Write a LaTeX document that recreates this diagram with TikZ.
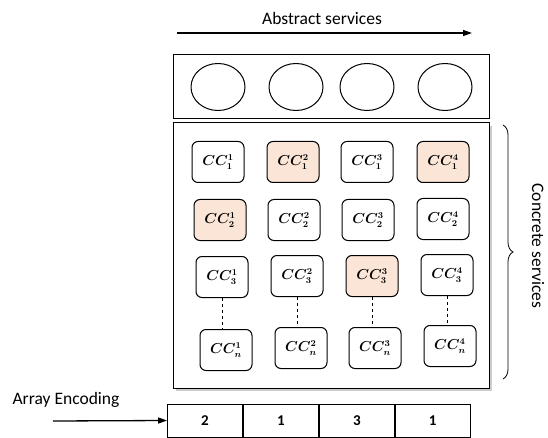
\documentclass[tikz,border=0pt]{standalone}
\usepackage{fontspec}
\setmainfont{Carlito}
\usepackage{amsmath}
\usepackage{bm}
\usetikzlibrary{arrows.meta,shadows,decorations.pathreplacing,shapes.geometric}
\definecolor{peach}{HTML}{FBE5D6}
\newcommand{\ccl}[2]{$\bm{CC}_{\bm{#1}}^{\bm{#2}}$}
\begin{document}
\begin{tikzpicture}[x=1pt,y=-1pt,
  lbl/.style={font=\fontsize{17.5}{20}\selectfont},
  ccbox/.style={draw,line width=1pt,rounded corners=6pt,minimum width=52pt,minimum height=41pt,inner sep=0pt,font=\fontsize{13.5}{15}\selectfont},
  sel/.style={ccbox,fill=peach},
  frame/.style={draw,line width=1pt},
  abs/.style={draw,line width=1pt,ellipse,minimum width=54pt,minimum height=47pt,inner sep=0pt},
  cell/.style={draw,line width=0.9pt,minimum width=75pt,minimum height=33pt,inner sep=0pt,font=\bfseries\fontsize{15}{17}\selectfont},
  arr/.style={line width=1.3pt,-{Triangle[length=9pt,width=6pt]}},
  dots/.style={dashed,line width=1pt}
]
\useasboundingbox (0,0) rectangle (548,438);
\node[lbl] (abstxt) at (322,18) {Abstract services};
\coordinate (a1) at (177,33);
\coordinate (a2) at (472,33);
\draw[arr] (a1) -- (a2);

\node[frame,minimum width=316pt,minimum height=64pt,inner sep=0pt] (topbox) at (331,87) {};
\node[abs] (s1) at (218,87) {};
\node[abs] (s2) at (296,87) {};
\node[abs] (s3) at (367,87) {};
\node[abs] (s4) at (445,87) {};

\node[frame,fill=white,drop shadow={shadow xshift=3pt,shadow yshift=-3pt,opacity=0.4},minimum width=316pt,minimum height=265pt,inner sep=0pt] (main) at (331,255.5) {};

\node[ccbox] (c11) at (218,162) {\ccl{1}{1}};
\node[sel]   (c12) at (293,162) {\ccl{1}{2}};
\node[ccbox] (c13) at (367,162) {\ccl{1}{3}};
\node[sel]   (c14) at (443,162) {\ccl{1}{4}};

\node[sel]   (c21) at (220,220) {\ccl{2}{1}};
\node[ccbox] (c22) at (294,220) {\ccl{2}{2}};
\node[ccbox] (c23) at (368,220) {\ccl{2}{3}};
\node[ccbox] (c24) at (443,219) {\ccl{2}{4}};

\node[ccbox] (c31) at (222,277) {\ccl{3}{1}};
\node[ccbox] (c32) at (297,276) {\ccl{3}{2}};
\node[sel]   (c33) at (372,276) {\ccl{3}{3}};
\node[ccbox] (c34) at (447,275) {\ccl{3}{4}};

\node[ccbox] (cn1) at (226,350) {\ccl{n}{1}};
\node[ccbox] (cn2) at (301,348) {\ccl{n}{2}};
\node[ccbox] (cn3) at (375,348) {\ccl{n}{3}};
\node[ccbox] (cn4) at (450,346) {\ccl{n}{4}};

\draw[dots] (c31.south) -- (cn1.north -| c31.south);
\draw[dots] (c32.south) -- (cn2.north -| c32.south);
\draw[dots] (c33.south) -- (cn3.north -| c33.south);
\draw[dots] (c34.south) -- (cn4.north -| c34.south);

\coordinate (b1) at (503,125);
\coordinate (b2) at (503,379);
\draw[line width=0.8pt,decorate,decoration={brace,amplitude=10pt,aspect=0.5}] (b1) -- (b2);
\node[lbl,rotate=-90] (conc) at (538,246) {Concrete services};

\node[lbl] (enc) at (66,400) {Array Encoding};
\node[cell] (e1c) at (205,420.5) {2};
\node[cell,anchor=west] (e2c) at (e1c.east) {1};
\node[cell,anchor=west] (e3c) at (e2c.east) {3};
\node[cell,anchor=west] (e4c) at (e3c.east) {1};
\coordinate (ea) at (53,421);
\draw[arr] (ea) -- (e1c.west);
\end{tikzpicture}
\end{document}
